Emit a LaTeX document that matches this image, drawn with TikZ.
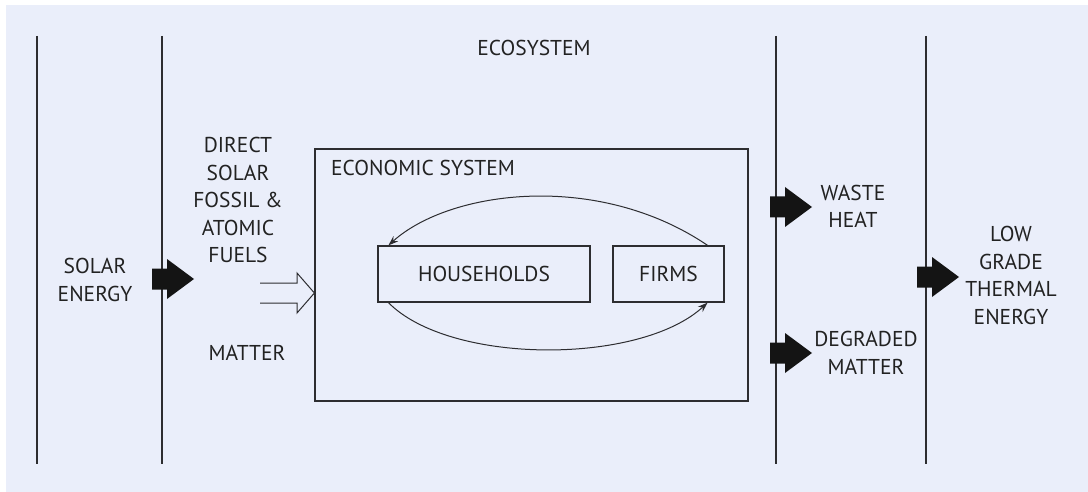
\documentclass[tikz,border=0pt]{standalone}
\usepackage{fontspec}
\setmainfont{PT Sans}
\usetikzlibrary{arrows.meta}
\definecolor{bgc}{RGB}{234,238,250}
\definecolor{ink}{RGB}{34,34,34}
\definecolor{linec}{RGB}{45,45,48}
\tikzset{
  lbl/.style={text=ink, align=center, inner sep=0pt, font=\fontsize{21.5}{27.5}\selectfont},
  boxn/.style={draw=linec, line width=1.2pt, inner sep=0pt},
  vline/.style={draw=linec, line width=1.4pt},
  flow/.style={draw=linec, line width=1pt, -{Stealth[length=10pt,width=7pt]}},
  pics/fatarrow/.style={code={
    \fill[black!92] (-42,-10.5)--(-27,-10.5)--(-27,-20)--(0,0)--(-27,20)--(-27,10.5)--(-42,10.5)--cycle;}}
}
\begin{document}
\begin{tikzpicture}[x=1pt,y=-1pt]
\useasboundingbox (0,0) rectangle (1088,492);
\fill[bgc] (6,5) rectangle (1088,492);
% vertical boundaries
\coordinate (l1t) at (37,36); \coordinate (l1b) at (37,464);
\coordinate (l2t) at (162,36); \coordinate (l2b) at (162,464);
\coordinate (l3t) at (776,36); \coordinate (l3b) at (776,464);
\coordinate (l4t) at (926,36); \coordinate (l4b) at (926,464);
\draw[vline] (l1t) -- (l1b);
\draw[vline] (l2t) -- (l2b);
\draw[vline] (l3t) -- (l3b);
\draw[vline] (l4t) -- (l4b);
% labels
\node[lbl] (eco) at (534,47.5) {ECOSYSTEM};
\node[lbl] (solar) at (95,280) {SOLAR\\ENERGY};
\node[lbl] (direct) at (238,200) {DIRECT\\SOLAR\\FOSSIL \&\\ATOMIC\\FUELS};
\node[lbl] (matter) at (247,353) {MATTER};
\node[lbl] (waste) at (853,206.5) {WASTE\\HEAT};
\node[lbl] (degr) at (866,353) {DEGRADED\\MATTER};
\node[lbl] (low) at (1011,275.5) {LOW\\GRADE\\THERMAL\\ENERGY};
% economic system
\node[boxn, minimum width=433pt, minimum height=252pt] (econ) at (531.5,275) {};
\node[lbl, anchor=west] (econlbl) at (331,168) {ECONOMIC SYSTEM};
\node[boxn, minimum width=212pt, minimum height=56pt, lbl, draw=linec] (hh) at (484,274) {HOUSEHOLDS};
\node[boxn, minimum width=111pt, minimum height=56pt, lbl, draw=linec] (firms) at (668.5,274) {FIRMS};
% flows between households and firms
\draw[flow] ([xshift=-17pt]firms.north east) .. controls (598,171) and (450,190) .. ([xshift=11pt]hh.north west);
\draw[flow] ([xshift=11pt]hh.south west) .. controls (450,365) and (640,365) .. ([xshift=-17pt]firms.south east);
% fat arrows
\pic at (194,279) {fatarrow};
\pic at (812,207) {fatarrow};
\pic at (812,353) {fatarrow};
\pic at (959,277) {fatarrow};
% open double arrow into economic system
\coordinate (mtip) at (econ.west |- 0,293);
\draw[linec, line width=1pt, line join=miter] (260,283) -- (297,283) -- (297,273) -- (mtip) -- (297,313) -- (297,303) -- (260,303);
\end{tikzpicture}
\end{document}
